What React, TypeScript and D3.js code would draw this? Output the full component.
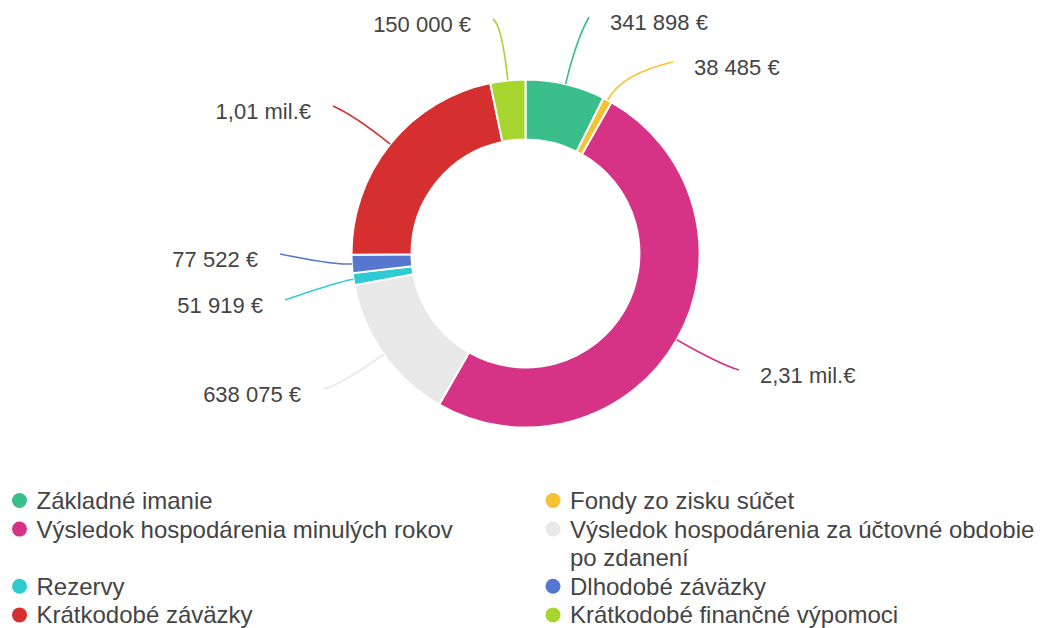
import React from "react";
import * as d3 from "d3";

const categories = [
  "Základné imanie",
  "Fondy zo zisku súčet",
  "Výsledok hospodárenia minulých rokov",
  "Výsledok hospodárenia za účtovné obdobie po zdanení",
  "Rezervy",
  "Dlhodobé záväzky",
  "Krátkodobé záväzky",
  "Krátkodobé finančné výpomoci",
];
const values = [341898, 38485, 2310000, 638075, 51919, 77522, 1010000, 150000];
const colors = ["#3bbf8a", "#f6c231", "#d63386", "#e8e8e8", "#2ecbd2", "#5677cf", "#d62f2f", "#a8d42f"];

// layout: label line end offsets from the donut centre, and first leader length
const labelEnds: [number, number][] = [
  [63.5, -236.5],
  [147.5, -191.5],
  [213.5, 116.5],
  [-202.5, 135.5],
  [-240.5, 46.5],
  [-245.5, 0.5],
  [-192.5, -147.5],
  [-32.5, -234.5],
];
const leaderLen = [45, 30, 50, 55, 15, 18, 45, 55];

const W = 1045;
const H = 628;
const CX = 525.5;
const CY = 253.5;
const R_OUT = 174;
const R_IN = 114;
const FONT = "'Liberation Sans', Arial, Helvetica, sans-serif";
const TEXT = "#444444";

function fmt(v: number): string {
  if (v >= 1e6) return (v / 1e6).toFixed(2).replace(".", ",") + " mil.€";
  return String(v).replace(/\B(?=(\d{3})+(?!\d))/g, " ") + " €";
}

let ctx: CanvasRenderingContext2D | null = null;
function measure(t: string, size: number): number {
  if (!ctx && typeof document !== "undefined") {
    ctx = document.createElement("canvas").getContext("2d");
  }
  if (!ctx) return t.length * size * 0.5;
  ctx.font = `${size}px 'Liberation Sans', Arial, sans-serif`;
  return ctx.measureText(t).width;
}
function wrap(t: string, size: number, maxW: number): string[] {
  const words = t.split(" ");
  const lines: string[] = [];
  let cur = "";
  for (const w of words) {
    const test = cur ? cur + " " + w : w;
    if (cur && measure(test, size) > maxW) {
      lines.push(cur);
      cur = w;
    } else cur = test;
  }
  if (cur) lines.push(cur);
  return lines;
}

export default function App() {
  const pie = d3.pie<number>().sort(null).value((d) => d).startAngle(0).endAngle(Math.PI * 2);
  const arcs = pie(values);
  const arc = d3.arc<d3.PieArcDatum<number>>().innerRadius(R_IN).outerRadius(R_OUT);

  const labels = arcs.map((a, i) => {
    const mid = (a.startAngle + a.endAngle) / 2;
    const dx = Math.sin(mid);
    const dy = -Math.cos(mid);
    const p0 = [CX + R_OUT * dx, CY + R_OUT * dy];
    const c = [p0[0] + dx * leaderLen[i], p0[1] + dy * leaderLen[i]];
    const end = [CX + labelEnds[i][0], CY + labelEnds[i][1]];
    const side = end[0] >= CX ? 1 : -1;
    const p = d3.path();
    p.moveTo(p0[0], p0[1]);
    p.quadraticCurveTo(c[0], c[1], end[0], end[1]);
    return { d: p.toString(), side, end, i };
  });

  // legend
  const LEG_SIZE = 24;
  const LINE_H = 28.6;
  const FIRST_Y = 500.5;
  const colDot = [19.5, 553];
  const colMax = [500, 1045 - 570 - 2];
  const legendItems: { i: number; x: number; y: number; lines: string[] }[] = [];
  let lineIdx = 0;
  for (let r = 0; r < Math.ceil(categories.length / 2); r++) {
    let rowLines = 1;
    for (let c = 0; c < 2; c++) {
      const i = r * 2 + c;
      if (i >= categories.length) continue;
      const lines = wrap(categories[i], LEG_SIZE, colMax[c]);
      rowLines = Math.max(rowLines, lines.length);
      legendItems.push({ i, x: colDot[c], y: FIRST_Y + lineIdx * LINE_H, lines });
    }
    lineIdx += rowLines;
  }

  return (
    <svg
      width={W}
      height={H}
      style={{ position: "absolute", left: 0, top: 0, display: "block", background: "#fff" }}
      fontFamily={FONT}
    >
      <g transform={`translate(${CX},${CY})`}>
        {arcs.map((a, i) => (
          <path key={i} d={arc(a) || ""} fill={colors[i]} stroke="#fff" strokeWidth={2} strokeLinejoin="round" />
        ))}
      </g>
      {labels.map((l) => (
        <g key={l.i}>
          <path d={l.d} fill="none" stroke={colors[l.i]} strokeWidth={1.6} />
          <text
            x={l.end[0] + l.side * (l.side > 0 ? 21 : 22)}
            y={l.end[1] + 5.5}
            dominantBaseline="central"
            textAnchor={l.side > 0 ? "start" : "end"}
            fontSize={22}
            fill={TEXT}
          >
            {fmt(values[l.i])}
          </text>
        </g>
      ))}
      {legendItems.map((it) => (
        <g key={it.i}>
          <circle cx={it.x} cy={it.y} r={7.5} fill={colors[it.i]} />
          <text x={it.x + 17} y={it.y + 8.5} fontSize={LEG_SIZE} fill={TEXT}>
            {it.lines.map((ln, k) => (
              <tspan key={k} x={it.x + 17} dy={k === 0 ? 0 : LINE_H}>
                {ln}
              </tspan>
            ))}
          </text>
        </g>
      ))}
    </svg>
  );
}
